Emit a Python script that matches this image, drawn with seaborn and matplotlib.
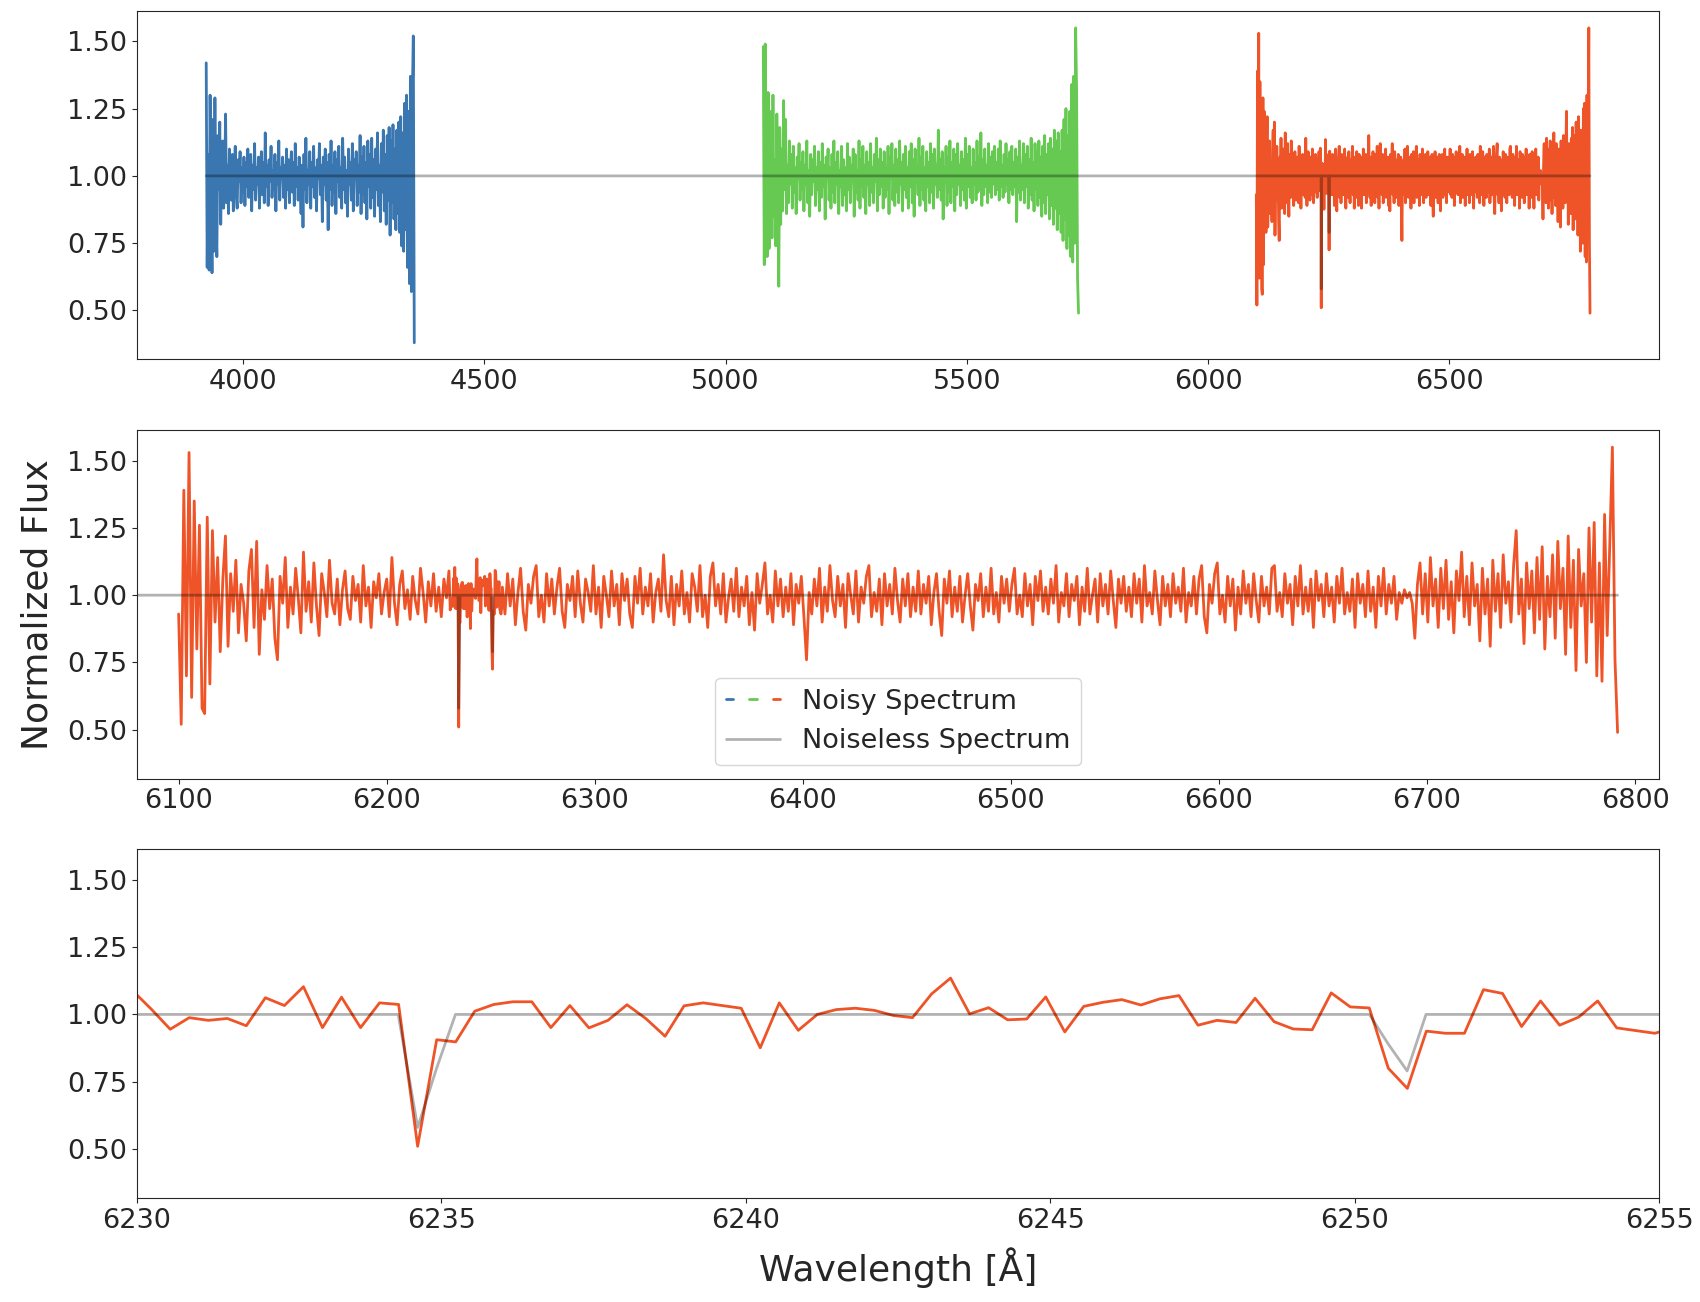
import numpy as np
import pandas as pd
import matplotlib
matplotlib.use("Agg")
import matplotlib.pyplot as plt
import seaborn as sns
from matplotlib.lines import Line2D
from matplotlib.legend_handler import HandlerTuple

sns.set_style("ticks")
plt.rcParams['font.family'] = ['DejaVu Sans']

# espectro ruidoso, tres ordenes (valores estimados del grafico)
blue_range = (3923.8, 4355.0)
blue_flux = [
    1.42, 0.66, 1.08, 0.65, 1.30, 0.93, 0.64, 1.21, 0.72, 1.29,
    0.84, 0.70, 1.15, 0.95, 1.20, 0.82, 1.05, 1.13, 0.88, 0.97,
    1.23, 0.90, 1.04, 0.86, 1.10, 0.97, 0.91, 1.08, 0.87, 1.02,
    1.11, 0.93, 0.88, 1.06, 0.98, 1.09, 0.90, 1.03, 0.94, 1.07,
    0.89, 1.05, 0.96, 1.10, 0.92, 1.02, 1.08, 0.87, 1.04, 0.95,
    1.12, 0.91, 1.03, 0.97, 1.07, 0.88, 1.01, 1.09, 0.93, 1.05,
    0.90, 1.16, 0.96, 1.04, 0.89, 1.06, 0.98, 1.11, 0.92, 1.02,
    0.95, 1.08, 0.87, 1.05, 0.97, 1.13, 0.91, 1.03, 0.99, 1.07,
    0.92, 1.04, 0.88, 1.10, 0.95, 1.06, 0.90, 1.02, 1.09, 0.94,
    1.05, 0.89, 1.12, 0.96, 1.03, 0.91, 1.07, 0.98, 0.86, 1.04,
    0.81, 1.08, 0.95, 1.14, 0.90, 1.02, 0.97, 1.09, 0.88, 1.05,
    0.96, 1.11, 0.92, 1.03, 0.87, 1.06, 0.99, 1.12, 0.93, 1.04,
    0.83, 1.07, 0.97, 1.10, 0.91, 1.05, 0.80, 1.08, 0.95, 1.13,
    0.89, 1.04, 0.94, 1.09, 0.86, 1.06, 0.98, 1.11, 0.92, 1.03,
    0.88, 1.14, 0.95, 1.07, 0.90, 1.02, 0.85, 1.10, 0.97, 1.05,
    0.91, 1.12, 0.87, 1.06, 0.99, 1.09, 0.89, 1.04, 0.94, 1.15,
    0.86, 1.07, 0.93, 1.11, 0.90, 1.05, 0.84, 1.13, 0.96, 1.08,
    0.88, 1.14, 0.92, 1.06, 0.85, 1.10, 0.95, 1.16, 0.89, 1.04,
    0.83, 1.12, 0.94, 1.17, 0.87, 1.08, 0.82, 1.15, 0.91, 1.18,
    0.78, 1.13, 0.90, 1.19, 0.84, 1.10, 0.80, 1.17, 0.86, 1.20,
    0.79, 1.22, 0.74, 1.16, 0.72, 1.27, 0.80, 1.30, 0.66, 1.24,
    0.60, 1.37, 0.57, 1.30, 1.52, 0.38,
]

green_range = (5078.3, 5731.6)
green_flux = [
    1.48, 0.67, 1.49, 0.95, 0.70, 1.31, 0.73, 1.12, 1.24, 0.77,
    1.30, 0.85, 1.06, 0.74, 1.23, 0.93, 0.59, 1.18, 0.82, 1.10,
    0.87, 1.28, 0.95, 1.21, 0.86, 1.04, 0.90, 1.13, 0.97, 1.08,
    0.88, 1.11, 0.94, 1.03, 0.86, 1.07, 0.99, 1.12, 0.91, 1.05,
    0.95, 1.09, 0.87, 1.04, 0.97, 1.13, 0.90, 1.02, 0.85, 1.08,
    0.93, 1.06, 0.98, 1.11, 0.89, 1.03, 0.95, 1.09, 0.87, 1.05,
    0.92, 1.12, 0.96, 1.04, 0.84, 1.07, 0.99, 1.10, 0.91, 1.03,
    0.88, 1.08, 0.94, 1.13, 0.90, 1.05, 0.97, 1.09, 0.86, 1.02,
    0.96, 1.11, 0.89, 1.06, 0.93, 1.03, 0.87, 1.12, 0.95, 1.07,
    0.90, 1.04, 0.98, 1.10, 0.85, 1.08, 0.94, 1.02, 0.91, 1.13,
    0.88, 1.06, 0.96, 1.11, 0.92, 1.04, 0.86, 1.09, 0.97, 1.05,
    0.89, 1.12, 0.94, 1.03, 0.90, 1.08, 0.98, 1.14, 0.87, 1.06,
    0.93, 1.10, 0.96, 1.05, 0.88, 1.09, 0.92, 1.03, 0.95, 1.11,
    0.86, 1.07, 0.99, 1.12, 0.91, 1.04, 0.89, 1.10, 0.94, 1.06,
    0.90, 1.13, 0.97, 1.05, 0.87, 1.08, 0.95, 1.11, 0.92, 1.03,
    0.88, 1.09, 0.96, 1.12, 0.90, 1.06, 0.85, 1.10, 0.98, 1.04,
    0.93, 1.14, 0.89, 1.07, 0.95, 1.11, 0.91, 1.03, 0.87, 1.09,
    0.96, 1.05, 0.90, 1.12, 0.94, 1.08, 0.88, 1.10, 0.97, 1.04,
    0.92, 1.17, 0.95, 1.06, 0.91, 1.09, 0.84, 1.03, 0.98, 1.11,
    0.89, 1.07, 0.94, 1.13, 0.90, 1.05, 0.96, 1.10, 0.87, 1.08,
    0.93, 1.12, 0.97, 1.04, 0.89, 1.09, 0.95, 1.06, 0.91, 1.14,
    0.88, 1.08, 0.96, 1.11, 0.92, 1.03, 0.90, 1.10, 0.97, 1.05,
    0.91, 1.13, 0.94, 1.07, 0.95, 1.16, 0.89, 1.06, 0.93, 1.10,
    0.96, 1.04, 0.90, 1.12, 0.94, 1.07, 0.92, 1.09, 0.97, 1.11,
    0.93, 1.05, 0.95, 1.10, 0.91, 1.13, 0.96, 1.04, 0.92, 1.08,
    0.94, 1.12, 0.97, 1.06, 0.90, 1.09, 0.95, 1.11, 0.93, 1.05,
    0.96, 1.10, 0.83, 1.07, 0.94, 1.13, 0.91, 1.04, 0.95, 1.12,
    0.90, 1.08, 0.96, 1.11, 0.88, 1.06, 0.93, 1.14, 0.91, 1.05,
    0.87, 1.12, 0.95, 1.09, 0.89, 1.13, 0.92, 1.07, 0.85, 1.11,
    0.90, 1.15, 0.86, 1.08, 0.93, 1.12, 0.84, 1.14, 0.89, 1.10,
    0.82, 1.17, 0.88, 1.13, 0.80, 1.16, 0.86, 1.09, 0.79, 1.17,
    0.76, 1.21, 0.84, 1.25, 0.73, 1.15, 0.78, 1.24, 0.70, 1.34,
    0.68, 1.37, 0.75, 1.55, 1.32, 0.62, 0.49,
]

# orden rojo: tramo grueso, tramo fino (6230-6255) y tramo grueso
red_left_range = (6100.0, 6228.75)
red_left_flux = [
    0.93, 0.52, 1.39, 0.70, 1.53, 0.62, 1.35, 0.80, 1.26, 0.58,
    0.56, 1.29, 0.67, 1.24, 0.90, 1.14, 0.79, 1.06, 1.22, 0.81,
    1.08, 0.94, 1.13, 0.86, 1.04, 0.97, 0.83, 1.09, 1.17, 0.88,
    1.20, 0.78, 1.02, 0.91, 1.11, 0.95, 1.06, 0.84, 0.76, 1.07,
    0.97, 1.14, 0.88, 1.03, 0.93, 1.10, 0.99, 0.86, 1.16, 0.94,
    1.05, 0.90, 1.12, 0.96, 0.85, 1.08, 1.01, 0.92, 1.13, 0.97,
    0.93, 1.06, 0.89, 1.02, 1.09, 0.95, 0.91, 1.07, 0.98, 1.04,
    0.90, 1.11, 0.96, 1.03, 0.88, 1.05, 0.99, 1.08, 0.93, 1.01,
    1.06, 0.92, 1.14, 0.97, 0.89, 1.04, 1.09, 0.95, 1.02, 0.91,
    1.07, 0.98, 0.93, 1.10, 1.01, 0.90, 1.05, 0.96, 1.08, 0.94,
    1.03, 0.92, 1.06, 0.99,
]

red_fine_range = (6229.92, 6255.24)
red_fine_flux = [
    1.09,
    1.02, 0.945, 0.988, 0.978, 0.985, 0.958, 1.062, 1.033, 1.103, 0.951,
    1.064, 0.951, 1.043, 1.037, 0.51, 0.906, 0.898, 1.012, 1.037, 1.047,
    1.047, 0.951, 1.033, 0.950, 0.978, 1.036, 0.984, 0.919, 1.032, 1.043,
    1.033, 1.023, 0.876, 1.043, 0.941, 1.000, 1.018, 1.023, 1.015, 0.996,
    0.988, 1.076, 1.135, 1.002, 1.025, 0.980, 0.983, 1.065, 0.935, 1.030,
    1.045, 1.055, 1.035, 1.058, 1.070, 0.960, 0.978, 0.970, 1.060, 0.973,
    0.946, 0.943, 1.080, 1.028, 1.024, 0.80, 0.725, 0.938, 0.930, 0.930,
    1.092, 1.078, 0.955, 1.050, 0.96, 0.99, 1.05, 0.95, 0.94, 0.93, 0.95,
]

red_right_range = (6255.6, 6791.6)
red_right_flux = [
    1.03, 0.93, 1.08, 0.96, 1.06, 0.89, 1.01, 1.10, 0.94, 0.87,
    1.04, 0.97, 1.07, 1.11, 0.92, 1.00, 0.90, 1.08, 0.96, 1.06,
    0.93, 1.03, 1.10, 0.94, 0.88, 1.04, 0.98, 1.07, 0.92, 1.09,
    0.97, 0.90, 1.06, 1.01, 0.94, 1.11, 0.93, 1.03, 0.88, 1.07,
    1.00, 0.92, 1.09, 0.96, 1.04, 0.89, 1.08, 0.98, 1.06, 0.93,
    0.88, 1.07, 0.97, 1.10, 0.93, 1.03, 0.96, 1.08, 0.90, 1.01,
    1.06, 0.94, 1.15, 0.98, 0.92, 1.07, 0.89, 1.04, 0.96, 1.09,
    0.93, 1.01, 0.90, 1.08, 1.03, 0.94, 1.11, 0.92, 1.00, 0.88,
    1.07, 1.12, 0.96, 1.04, 0.93, 1.08, 0.90, 0.99, 1.06, 0.94,
    1.10, 0.92, 1.03, 0.96, 1.07, 0.89, 1.01, 0.87, 1.08, 0.97,
    1.04, 1.12, 0.93, 1.00, 0.90, 1.09, 0.96, 1.06, 0.92, 1.03,
    0.94, 1.08, 0.89, 1.04, 0.97, 1.07, 0.92, 0.76, 1.01, 0.93,
    1.06, 0.96, 1.10, 0.90, 1.03, 0.94, 1.11, 0.98, 0.92, 1.07,
    0.96, 1.04, 0.88, 1.08, 1.00, 0.93, 1.09, 0.90, 1.03, 0.97,
    1.07, 1.11, 0.92, 1.01, 0.94, 1.06, 0.89, 1.08, 0.96, 1.04,
    0.93, 1.10, 0.98, 0.90, 1.06, 0.96, 1.08, 0.92, 1.03, 0.94,
    1.09, 0.93, 1.04, 0.97, 1.07, 0.89, 1.01, 1.08, 0.94, 0.85,
    1.06, 0.97, 1.09, 0.92, 1.03, 0.94, 1.07, 0.90, 1.00, 1.08,
    0.96, 0.87, 1.04, 0.98, 1.08, 0.92, 1.03, 0.94, 1.10, 0.93,
    1.01, 0.90, 1.07, 0.97, 1.06, 0.94, 1.04, 1.10, 0.93, 1.00,
    0.92, 1.08, 0.96, 1.04, 0.89, 1.07, 0.98, 1.09, 0.94, 1.03,
    0.93, 1.06, 0.97, 1.11, 0.90, 1.01, 0.96, 1.08, 0.92, 1.04,
    0.98, 1.07, 0.89, 1.03, 0.94, 1.10, 0.93, 1.00, 1.06, 0.90,
    1.08, 0.96, 1.04, 0.93, 1.09, 0.98, 0.88, 1.06, 0.97, 1.07,
    0.94, 1.03, 0.92, 1.08, 0.97, 1.06, 0.90, 1.11, 0.96, 1.01,
    0.93, 1.09, 0.98, 0.89, 1.07, 0.96, 1.04, 0.92, 1.08, 0.97,
    1.03, 0.94, 1.10, 0.90, 1.01, 0.96, 1.07, 0.93, 1.06, 1.11,
    0.92, 0.86, 1.04, 0.97, 1.08, 1.12, 0.93, 1.00, 0.90, 1.07,
    0.96, 1.06, 0.87, 1.03, 0.93, 1.09, 0.97, 1.04, 0.92, 1.08,
    0.98, 0.90, 1.07, 0.96, 1.03, 0.93, 1.10, 1.11, 0.94, 1.01,
    0.92, 1.08, 0.97, 1.04, 0.89, 1.07, 0.96, 1.11, 0.93, 1.03,
    0.94, 1.06, 0.88, 1.09, 0.98, 1.04, 0.92, 1.08, 0.96, 1.03,
    0.90, 1.07, 0.97, 1.10, 0.93, 1.01, 0.94, 1.06, 0.88, 1.08,
    0.97, 1.04, 0.92, 1.09, 0.94, 1.03, 0.88, 1.07, 0.96, 1.10,
    0.93, 1.04, 0.97, 1.07, 0.91, 1.01, 0.97, 1.02, 0.99, 1.01,
    0.97, 0.84, 1.04, 1.12, 0.93, 1.08, 0.90, 1.14, 0.96, 1.06,
    0.88, 1.10, 0.95, 1.13, 0.91, 1.05, 0.86, 1.09, 0.98, 1.16,
    0.92, 1.07, 0.89, 1.12, 0.96, 1.04, 0.83, 1.10, 0.93, 1.06,
    0.81, 1.13, 0.94, 1.08, 0.88, 1.15, 0.97, 1.05, 0.90, 1.11,
    1.24, 0.93, 1.06, 0.82, 1.12, 0.95, 1.09, 0.86, 1.14, 0.91,
    1.18, 0.80, 1.07, 0.92, 1.15, 0.84, 1.20, 0.95, 1.10, 0.78,
    1.22, 0.88, 1.13, 0.72, 1.17, 0.96, 1.08, 0.75, 1.25, 0.90,
    1.27, 0.70, 1.12, 0.68, 1.30, 0.85, 1.19, 1.55, 0.76, 0.49,
]

# espectro sin ruido (vertices de la linea gris)
model_wl = [3923.8, 6234.29, 6234.61, 6234.92, 6235.23,
            6250.24, 6250.55, 6250.86, 6251.17, 6791.6]
model_flux = [1.0, 1.0, 0.58, 0.80, 1.0, 1.0, 0.89, 0.79, 1.0, 1.0]

colors = {'blue': '#3a76b0', 'green': '#66c952', 'red': '#ee5427'}

# armar el DataFrame
red_wl = np.concatenate([
    np.linspace(*red_left_range, len(red_left_flux)),
    np.linspace(*red_fine_range, len(red_fine_flux)),
    np.linspace(*red_right_range, len(red_right_flux)),
])
df = pd.concat([
    pd.DataFrame({'wavelength': np.linspace(*blue_range, len(blue_flux)),
                  'flux': blue_flux, 'segment': 'blue'}),
    pd.DataFrame({'wavelength': np.linspace(*green_range, len(green_flux)),
                  'flux': green_flux, 'segment': 'green'}),
    pd.DataFrame({'wavelength': red_wl,
                  'flux': red_left_flux + red_fine_flux + red_right_flux,
                  'segment': 'red'}),
], ignore_index=True)

fig, axes = plt.subplots(3, 1, figsize=(17, 13.02), dpi=100)
fig.subplots_adjust(left=0.0806, right=0.976, top=0.9916, bottom=0.0799, hspace=0.203)

for ax in axes:
    sns.lineplot(data=df, x='wavelength', y='flux', hue='segment', palette=colors,
                 estimator=None, sort=False, lw=2, legend=False, ax=ax)
    sns.lineplot(x=model_wl, y=model_flux, color='k', alpha=0.3, lw=2,
                 estimator=None, sort=False, ax=ax)
    ax.set_ylim(0.318, 1.613)
    ax.set_yticks([0.5, 0.75, 1.0, 1.25, 1.5])
    ax.set_yticklabels(['0.50', '0.75', '1.00', '1.25', '1.50'])
    ax.tick_params(labelsize=19.5)
    ax.set_xlabel('')
    ax.set_ylabel('')

axes[1].set_xlim(red_wl[0] - 20, red_wl[-1] + 20)
axes[2].set_xlim(6230, 6255)

axes[1].set_ylabel('Normalized Flux', fontsize=26, labelpad=9)
axes[2].set_xlabel('Wavelength [Å]', fontsize=26, labelpad=10)

# leyenda con tres colores para el espectro ruidoso
noisy_handle = tuple(Line2D([], [], color=colors[s], lw=2) for s in ['blue', 'green', 'red'])
model_handle = Line2D([], [], color='k', alpha=0.3, lw=2)
axes[1].legend([noisy_handle, model_handle], ['Noisy Spectrum', 'Noiseless Spectrum'],
               handler_map={tuple: HandlerTuple(ndivide=None, pad=0.6)},
               loc='lower center', fontsize=19.5)

plt.savefig('out.png', dpi=100)
